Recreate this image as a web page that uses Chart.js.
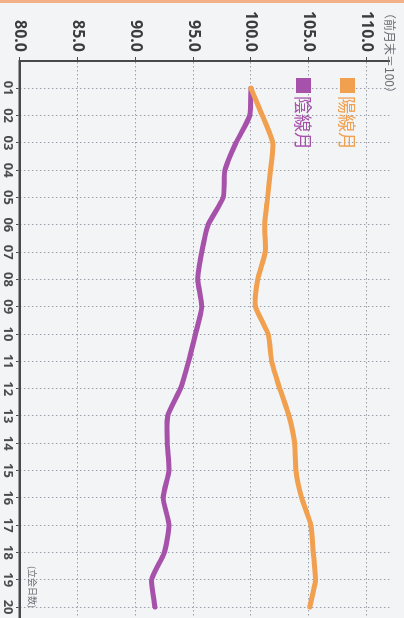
<!DOCTYPE html>
<html lang="ja">
<head>
<meta charset="utf-8">
<script src="https://cdn.jsdelivr.net/npm/chart.js@4/dist/chart.umd.min.js"></script>
<style>
  html, body { margin: 0; padding: 0; background: #f3f4f6; overflow: hidden; }
  body { width: 404px; height: 618px; position: relative; }
  #band { position: absolute; left: 0; top: 0; width: 404px; height: 3px; background: #f1b088; z-index: 2; }
  /* the chart is laid out landscape and turned a quarter turn clockwise */
  #frame { position: absolute; left: 0; top: 0; width: 618px; height: 404px;
           transform-origin: 0 0; transform: translateX(404px) rotate(90deg); }
  #frame canvas { position: absolute; left: 0; top: 0; }
  .item { position: absolute; left: 78px; height: 20px; display: flex; align-items: center;
          font-family: "Noto Sans CJK JP", sans-serif; font-size: 18px; line-height: 20px; }
  .item i { display: inline-block; width: 15px; height: 15px; margin-right: 3px; }
  .note { position: absolute; font-family: "Noto Sans CJK JP", sans-serif; color: #6a6d73; white-space: nowrap; }
</style>
</head>
<body>
<div id="band"></div>
<div id="frame">
  <canvas id="c" width="618" height="404"></canvas>
  <div id="legend"></div>
  <div class="note" style="left:7px; top:6px; font-size:12px; line-height:16px;">（前月末＝100）</div>
  <div class="note" style="left:566px; top:366px; font-size:9px; line-height:12px;">(立会日数)</div>
</div>
<script>
// trading day of the month
const days = ['01','02','03','04','05','06','07','08','09','10',
              '11','12','13','14','15','16','17','18','19','20'];
// index, previous month end = 100
const yangValues = [100.0, 101.0, 101.9, 101.7, 101.45, 101.2, 101.25, 100.6, 100.4, 101.5,
                    101.8, 102.5, 103.3, 103.8, 103.9, 104.4, 105.2, 105.4, 105.6, 105.1];
const yinValues  = [100.0, 99.9, 98.7, 97.75, 97.6, 96.3, 95.75, 95.4, 95.75, 95.2,
                    94.6, 93.9, 92.8, 92.75, 92.9, 92.4, 92.9, 92.5, 91.4, 91.7];
const valueTicks = [80, 85, 90, 95, 100, 105, 110];
const seriesNames = ['陽線月', '陰線月'];
const seriesColors = ['#f0a04e', '#a652ab'];

const toPoints = vals => vals.map((v, i) => ({ x: i + 1, y: v }));
const seriesValues = [yangValues, yinValues];

// legend boxes
const legend = document.getElementById('legend');
const legendTops = [46, 90];
seriesNames.forEach((name, k) => {
  const el = document.createElement('div');
  el.className = 'item';
  el.style.top = legendTops[k] + 'px';
  el.style.color = seriesColors[k];
  el.innerHTML = '<i style="background:' + seriesColors[k] + '"></i>' + name;
  legend.appendChild(el);
});

const gridColor = '#9a9ea8';
const axisColor = '#47494d';

new Chart(document.getElementById('c'), {
  type: 'line',
  data: {
    datasets: seriesNames.map((name, k) => ({
      label: name,
      data: toPoints(seriesValues[k]),
      borderColor: seriesColors[k],
      backgroundColor: seriesColors[k],
      borderWidth: 5,
      pointRadius: 0,
      tension: 0.2,
      borderCapStyle: 'round',
      borderJoinStyle: 'round',
      fill: false
    }))
  },
  options: {
    responsive: false,
    animation: false,
    devicePixelRatio: 1,
    layout: { padding: { top: 9, right: 0, left: 0, bottom: 0 } },
    plugins: { legend: { display: false }, tooltip: { enabled: false } },
    scales: {
      x: {
        type: 'linear',
        min: 0,
        max: 20.4,
        afterBuildTicks: s => { s.ticks = days.map((d, i) => ({ value: i + 1 })); },
        afterFit: s => { s.height = 20; },
        ticks: {
          autoSkip: false, maxRotation: 0, padding: 0,
          color: '#4a4c50',
          font: { family: 'Noto Sans', size: 13, weight: 'bold' },
          callback: v => days[v - 1]
        },
        grid: { color: gridColor, lineWidth: 1, tickLength: 4, tickColor: axisColor },
        border: { display: true, color: axisColor, width: 2.5, dash: [1.5, 2.5] }
      },
      y: {
        min: 80,
        max: 112,
        afterBuildTicks: s => { s.ticks = valueTicks.map(v => ({ value: v })); },
        afterFit: s => { s.width = 61; },
        ticks: {
          padding: 5,
          color: '#3a3c40',
          font: { family: 'Noto Sans', size: 16, weight: 'bold' },
          callback: v => Number(v).toFixed(1)
        },
        grid: { color: gridColor, lineWidth: 1, tickLength: 4, tickColor: axisColor },
        border: { display: true, color: axisColor, width: 2, dash: [1.5, 2.5] }
      }
    }
  }
});
</script>
</body>
</html>
